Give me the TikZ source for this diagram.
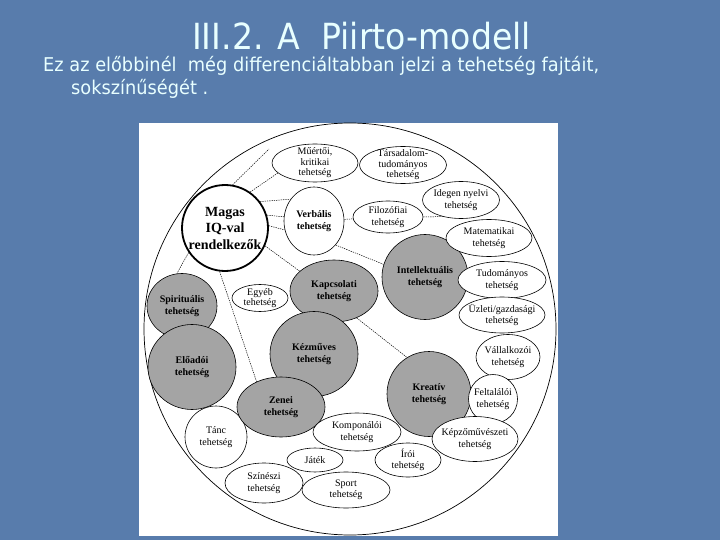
\documentclass[tikz,border=0pt]{standalone}
\usepackage{fontspec}
\setmainfont{Liberation Serif}
\newfontfamily\slidefont{DejaVu Sans}
\usetikzlibrary{shapes.geometric}
\definecolor{slideBlue}{HTML}{587CAC}
\definecolor{slideText}{HTML}{E8FFFF}
\definecolor{talentGrey}{HTML}{A4A4A4}

\begin{document}
\begin{tikzpicture}[x=1pt, y=-1pt,
      tal/.style={draw, ellipse, line width=0.6pt, fill=white, inner sep=-12pt, align=center,
        font=\fontsize{10}{11.5}\selectfont},
      main/.style={tal, fill=talentGrey, font=\fontsize{10}{12}\selectfont\bfseries},
      link/.style={line width=0.5pt, dash pattern=on 1.3pt off 1pt}]
    \useasboundingbox (0,0) rectangle (720,540);
    \fill[slideBlue] (0,0) rectangle (720,540);
    % titles
    \node[anchor=base west, inner sep=0pt, text=slideText, font=\slidefont\fontsize{36}{36}\selectfont] (title) at (192,49.5) {\scalebox{0.92}[1]{III.2. A\ \ Piirto-modell}};
    \node[anchor=base west, inner sep=0pt, text=slideText, font=\slidefont\fontsize{19}{19}\selectfont] (sub1) at (43,72) {\scalebox{0.935}[1]{Ez az előbbinél\ \ még differenciáltabban jelzi a tehetség fajtáit,}};
    \node[anchor=base west, inner sep=0pt, text=slideText, font=\slidefont\fontsize{19}{19}\selectfont] (sub2) at (71,95) {\scalebox{0.935}[1]{sokszínűségét .}};
    % panel and outer circle
    \fill[white] (139,123) rectangle (558,536);
    \draw[line width=0.7pt] (350,329) circle[radius=206];
    % grey talents
    \node[main, minimum width=70pt, minimum height=65pt] (spiritualis) at (182,306) {Spirituális\\tehetség};
    \node[main, minimum width=88pt, minimum height=85pt] (eloadoi) at (192,367) {Előadói\\tehetség};
    \node[tal, minimum width=62pt, minimum height=62pt] (tanc) at (216,437) {Tánc\\tehetség};
    \node[main, minimum width=88pt, minimum height=62pt] (kapcsolati) at (334,291) {Kapcsolati\\tehetség};
    \node[main, minimum width=88pt, minimum height=85pt] (kezmuves) at (314,354) {Kézműves\\tehetség};
    \node[main, minimum width=88pt, minimum height=60pt] (zenei) at (281,407) {Zenei\\tehetség};
    \node[main, minimum width=86pt, minimum height=85pt] (intellektualis) at (425,277) {Intellektuális\\tehetség};
    \node[main, minimum width=84pt, minimum height=85pt] (kreativ) at (429,394) {Kreatív\\tehetség};
    % white talents
    \node[tal, line width=1.8pt, minimum size=86pt, font=\fontsize{14}{16.5}\selectfont\bfseries] (magas) at (225,228) {Magas\\IQ-val\\rendelkezők};
    \node[tal, minimum width=86pt, minimum height=38pt, font=\fontsize{10}{10.5}\selectfont] (muertoi) at (315,163) {Műértői,\\kritikai\\tehetség};
    \node[tal, minimum width=87pt, minimum height=37pt, font=\fontsize{10}{10.5}\selectfont] (tarsadalom) at (403,165) {Társadalom-\\tudományos\\tehetség};
    \node[tal, minimum width=60pt, minimum height=68pt, font=\fontsize{10}{12.5}\selectfont\bfseries] (verbalis) at (314,221) {Verbális\\tehetség};
    \node[tal, minimum width=77pt, minimum height=37pt] (idegen) at (461,200) {Idegen nyelvi\\tehetség};
    \node[tal, minimum width=70pt, minimum height=32pt] (filozofiai) at (388,217) {Filozófiai\\tehetség};
    \node[tal, minimum width=86pt, minimum height=37pt] (matematikai) at (489,238) {Matematikai\\tehetség};
    \node[tal, minimum width=88pt, minimum height=37pt] (tudomanyos) at (502,280) {Tudományos\\tehetség};
    \node[tal, minimum width=86pt, minimum height=36pt] (uzleti) at (502,315) {Üzleti/gazdasági\\tehetség};
    \node[tal, minimum width=56pt, minimum height=27pt, font=\fontsize{10}{9}\selectfont] (egyeb) at (260,298) {Egyéb\\tehetség};
    \node[tal, minimum width=64pt, minimum height=45pt] (vallalkozoi) at (508,357) {Vállalkozói\\tehetség};
    \node[tal, minimum width=49pt, minimum height=49pt] (feltalaloi) at (493,399) {Feltalálói\\tehetség};
    \node[tal, minimum width=86pt, minimum height=45pt] (kepzo) at (475,439) {Képzőművészeti\\tehetség};
    \node[tal, minimum width=88pt, minimum height=38pt] (komponaloi) at (357,432) {Komponálói\\tehetség};
    \node[tal, minimum width=66pt, minimum height=34pt] (iroi) at (408,460) {Írói\\tehetség};
    \node[tal, minimum width=56pt, minimum height=24pt] (jatek) at (315,460) {Játék};
    \node[tal, minimum width=78pt, minimum height=40pt] (szineszi) at (264,483) {Színészi\\tehetség};
    \node[tal, minimum width=88pt, minimum height=36pt] (sport) at (346,490) {Sport\\tehetség};
    % dotted links
    \coordinate (loose) at (269,149);
    \foreach \a/\b in {magas.80/loose, magas.55/muertoi.195, magas.37/verbalis.137,
        magas.17/verbalis.172, magas.3/verbalis.197, verbalis/filozofiai,
        filozofiai.east/idegen.222, verbalis.-48/intellektualis.163,
        magas.-24/kapcsolati.150, magas.214/spiritualis.99, magas.263/zenei.134,
        kapcsolati.-50/kreativ.121}
      \draw[link] (\a) -- (\b);
  \end{tikzpicture}
\end{document}
